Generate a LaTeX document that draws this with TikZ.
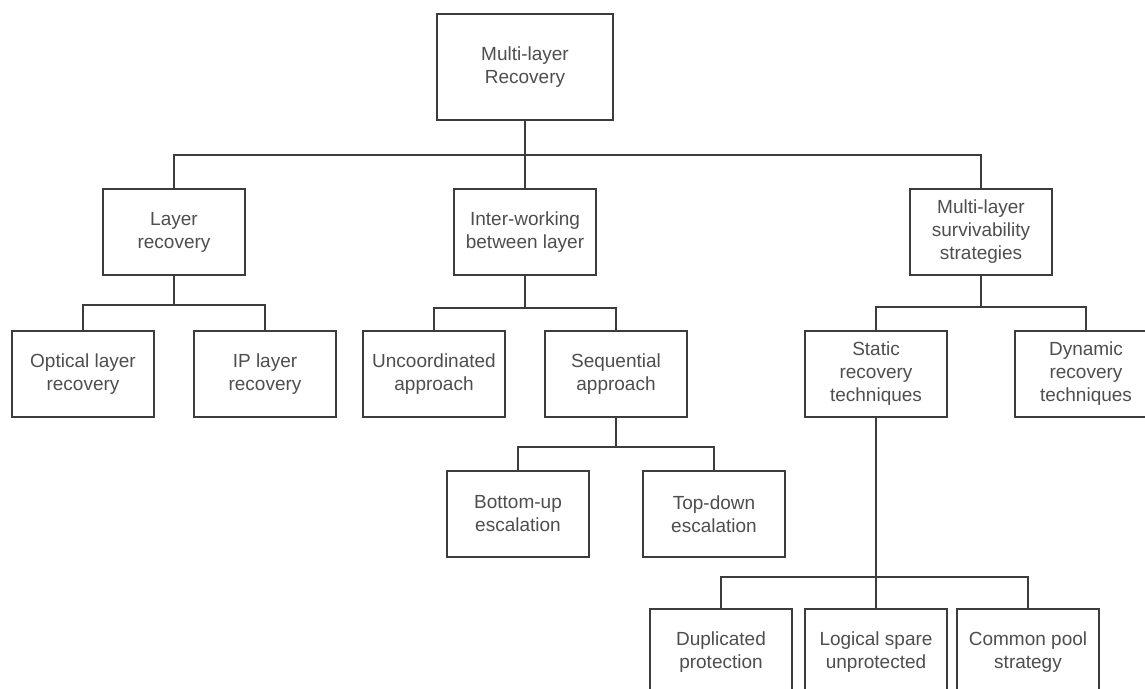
\documentclass[tikz,border=0pt]{standalone}
\usepackage{fontspec}
\setmainfont{Liberation Sans}
\definecolor{linec}{HTML}{3C3C3C}
\definecolor{textc}{HTML}{4E4E4E}
\begin{document}
\begin{tikzpicture}[x=1pt,y=-1pt,
  box/.style={draw=linec, line width=1.4pt, fill=white, rectangle, inner sep=0pt,
    minimum width=142pt, minimum height=86pt, align=center, text=textc,
    font=\fontsize{19}{23}\selectfont},
  link/.style={draw=linec, line width=1.4pt}]
\useasboundingbox (0,0) rectangle (1145,688);
\clip (0,0) rectangle (1145,688);
\fill[white] (0,0) rectangle (1145,688);

% top of the hierarchy
\node[box, minimum width=176pt, minimum height=106pt] (root) at (525,67) {Multi-layer\\Recovery};

% first level
\node[box] (layer) at (174,232) {Layer\\recovery};
\node[box] (inter) at (525,232) {Inter-working\\between layer};
\node[box] (surv) at (981,232) {Multi-layer\\survivability\\strategies};

% second level
\node[box] (optical) at (83,374) {Optical layer\\recovery};
\node[box] (ip) at (265,374) {IP layer\\recovery};
\node[box] (uncoord) at (434,374) {Uncoordinated\\approach};
\node[box] (seq) at (616,374) {Sequential\\approach};
\node[box] (static) at (876,374) {Static\\recovery\\techniques};
\node[box] (dynamic) at (1086,374) {Dynamic\\recovery\\techniques};

% escalation strategies
\node[box] (bottomup) at (518,514) {Bottom-up\\escalation};
\node[box] (topdown) at (714,514) {Top-down\\escalation};

% static recovery options
\node[box] (dup) at (721,652) {Duplicated\\protection};
\node[box] (logical) at (876,652) {Logical spare\\unprotected};
\node[box] (common) at (1028,652) {Common pool\\strategy};

% bus junctions
\coordinate (b0) at (525,155);
\coordinate (b1) at (174,305);
\coordinate (b2) at (525,308);
\coordinate (b3) at (981,307);
\coordinate (b4) at (616,447);
\coordinate (b5) at (876,577);

\draw[link] (root.south) -- (b0);
\draw[link] (b0) -| (layer.north);
\draw[link] (b0) -- (inter.north);
\draw[link] (b0) -| (surv.north);

\draw[link] (layer.south) -- (b1);
\draw[link] (b1) -| (optical.north);
\draw[link] (b1) -| (ip.north);

\draw[link] (inter.south) -- (b2);
\draw[link] (b2) -| (uncoord.north);
\draw[link] (b2) -| (seq.north);

\draw[link] (surv.south) -- (b3);
\draw[link] (b3) -| (static.north);
\draw[link] (b3) -| (dynamic.north);

\draw[link] (seq.south) -- (b4);
\draw[link] (b4) -| (bottomup.north);
\draw[link] (b4) -| (topdown.north);

\draw[link] (static.south) -- (b5);
\draw[link] (b5) -| (dup.north);
\draw[link] (b5) -- (logical.north);
\draw[link] (b5) -| (common.north);
\end{tikzpicture}
\end{document}
